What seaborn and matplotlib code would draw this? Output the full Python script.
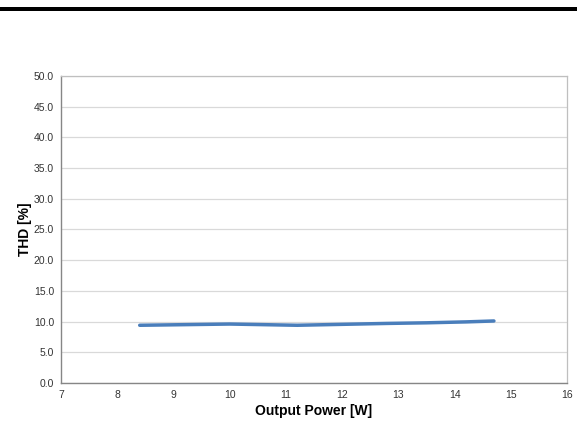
import matplotlib
matplotlib.use("Agg")
import matplotlib.pyplot as plt
import seaborn as sns
import numpy as np
import pandas as pd
from matplotlib.patches import Rectangle

power = [8.4, 9.2, 10.0, 10.6, 11.2, 12.0, 12.8, 13.5, 14.2, 14.7]
thd = [9.4, 9.5, 9.6, 9.5, 9.4, 9.55, 9.7, 9.8, 9.95, 10.1]

xticks = [7, 8, 9, 10, 11, 12, 13, 14, 15, 16]
yticks = [0, 5, 10, 15, 20, 25, 30, 35, 40, 45, 50]

sns.set_theme(style="white")
plt.rcParams['font.family'] = ['Liberation Sans', 'DejaVu Sans']

fig = plt.figure(figsize=(5.77, 4.21), dpi=100)
ax = fig.add_axes([0.1057, 0.0903, 0.8770, 0.7292])

df = pd.DataFrame({"power": power, "thd": thd})
sns.lineplot(data=df, x="power", y="thd", ax=ax, color="#4a7ebb", linewidth=2.5, zorder=3)

ax.set_xlim(7, 16)
ax.set_ylim(0, 50)
ax.set_xticks(xticks)
ax.set_xticklabels([str(t) for t in xticks])
ax.set_yticks(yticks)
ax.set_yticklabels([f"{t:.1f}" for t in yticks])
ax.tick_params(axis='both', labelsize=7.5, colors="#333333", length=0, pad=5)
ax.grid(axis='y', color="#d9d9d9", linewidth=0.9)
ax.set_axisbelow(True)
for s in ['top', 'right']:
    ax.spines[s].set_color("#bfbfbf")
    ax.spines[s].set_linewidth(0.9)
for s in ['left', 'bottom']:
    ax.spines[s].set_color("#868686")
    ax.spines[s].set_linewidth(1.0)

ax.set_xlabel("Output Power [W]", fontsize=10, fontweight='bold', color="#000000", labelpad=3)
ax.set_ylabel("THD [%]", fontsize=10, fontweight='bold', color="#000000", labelpad=1.5)

fig.add_artist(Rectangle((0, 1 - 10.5/421), 1, 3.5/421, transform=fig.transFigure,
                         facecolor="black", edgecolor="none"))

fig.savefig("out.png", dpi=100, facecolor="white")
